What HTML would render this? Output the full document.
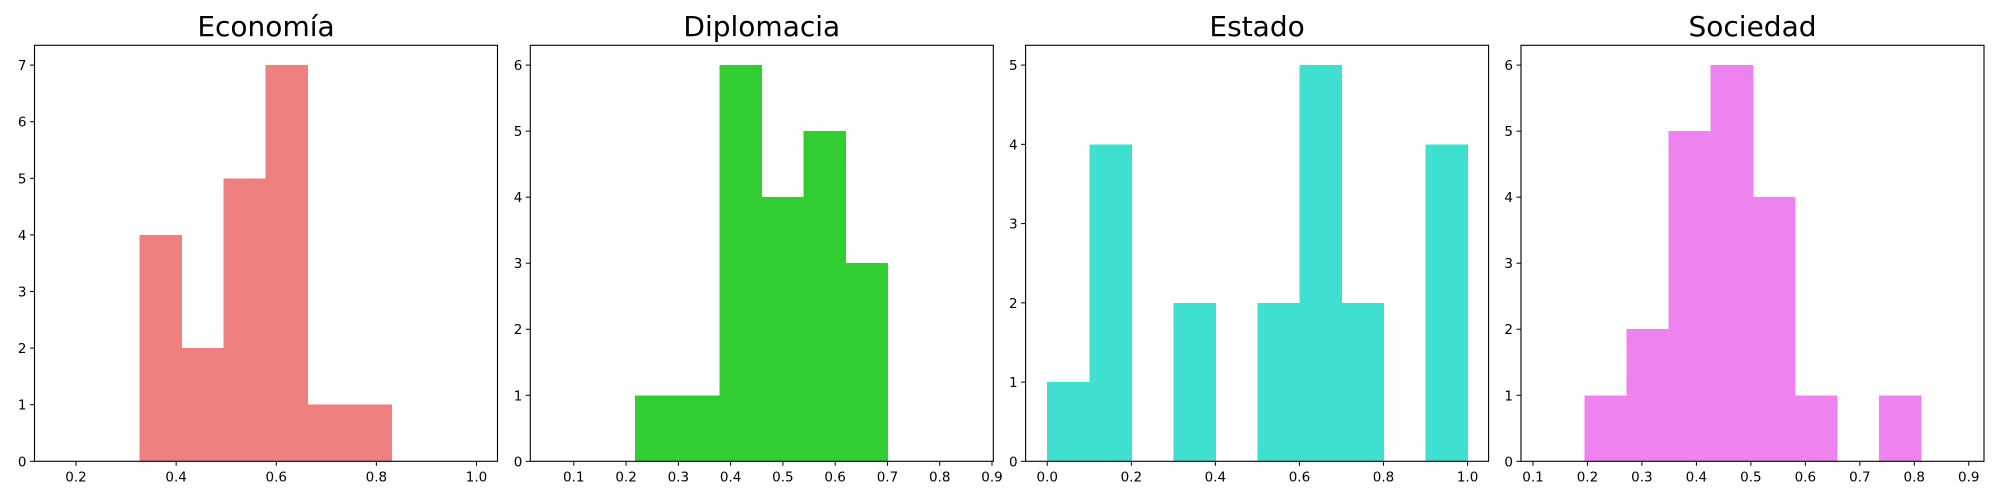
<!DOCTYPE html>
<html><head><meta charset="utf-8"><style>
html,body{margin:0;padding:0;background:#fff;}
svg{display:block;font-family:"DejaVu Sans","Liberation Sans",sans-serif;}
</style></head><body>
<svg id="chart" width="2000" height="500" viewBox="0 0 2000 500"></svg>
<script>
const titles = ["Economía","Diplomacia","Estado","Sociedad"];
const colors = ["#f08080","#32cd32","#40e0d0","#ee82ee"];
const binStarts = [0.3267, 0.2175, 0.0, 0.1947];
const binWidths = [0.084, 0.0805, 0.1, 0.0772];
const countsEconomia = [4,2,5,7,1,1];
const countsDiplomacia = [1,1,6,4,5,3];
const countsEstado = [1,4,0,2,0,2,5,2,0,4];
const countsSociedad = [1,2,5,6,4,1,0,1];
const xDomains = [[0.117,1.042],[0.0168,0.9025],[-0.0515,1.05],[0.078,0.928]];
const yMaxes = [7.35,6.3,5.25,6.3];
const xTicks0 = ["0.2","0.4","0.6","0.8","1.0"];
const xTicks1 = ["0.1","0.2","0.3","0.4","0.5","0.6","0.7","0.8","0.9"];
const xTicks2 = ["0.0","0.2","0.4","0.6","0.8","1.0"];
const xTicks3 = ["0.1","0.2","0.3","0.4","0.5","0.6","0.7","0.8","0.9"];
const yTicks0 = [0,1,2,3,4,5,6,7];
const yTicks1 = [0,1,2,3,4,5,6];
const yTicks2 = [0,1,2,3,4,5];
const yTicks3 = [0,1,2,3,4,5,6];

const allCounts=[countsEconomia,countsDiplomacia,countsEstado,countsSociedad];
const allX=[xTicks0,xTicks1,xTicks2,xTicks3];
const allY=[yTicks0,yTicks1,yTicks2,yTicks3];
const lefts=[34.5,530.3,1025.6,1521];
const W=463, TOP=45.3, BOT=461.3;
const NS="http://www.w3.org/2000/svg";
const svg=document.getElementById('chart');
function mk(tag,attrs,parent){const e=document.createElementNS(NS,tag);for(const k in attrs)e.setAttribute(k,attrs[k]);(parent||svg).appendChild(e);return e;}
for(let p=0;p<4;p++){
  const g=mk('g',{});
  
  
  const L=lefts[p],[x0,x1]=xDomains[p],ym=yMaxes[p];
  const sx=v=>L+(v-x0)/(x1-x0)*W;
  const sy=v=>BOT-v/ym*(BOT-TOP);
  const counts=allCounts[p];
  counts.forEach((c,i)=>{
    if(c<=0)return;
    const a=sx(binStarts[p]+i*binWidths[p]),b=sx(binStarts[p]+(i+1)*binWidths[p]);
    const r=mk('rect',{x:a,y:sy(c),width:b-a+0.5,height:sy(0)-sy(c),fill:colors[p],'shape-rendering':'crispEdges'},g);
    
    
  });
  const fr=mk('rect',{x:L,y:TOP,width:W,height:BOT-TOP,fill:'none',stroke:'#000','stroke-width':1.1},g);
  
  
  allX[p].forEach(t=>{
    const x=sx(parseFloat(t));
    mk('line',{x1:x,x2:x,y1:BOT,y2:BOT+4.5,stroke:'#000','stroke-width':1},g);
    const tx=mk('text',{x:x,y:BOT+20,'font-size':13.5,'text-anchor':'middle',fill:'#000'},g);
    tx.textContent=t;
    
    
  });
  allY[p].forEach(t=>{
    const y=sy(t);
    mk('line',{x1:L-4.5,x2:L,y1:y,y2:y,stroke:'#000','stroke-width':1},g);
    const tx=mk('text',{x:L-8,y:y+5,'font-size':13.5,'text-anchor':'end',fill:'#000'},g);
    tx.textContent=t;
    
    
  });
  const tt=mk('text',{x:L+W/2,y:36,'font-size':28,'text-anchor':'middle',fill:'#000'},g);
  tt.textContent=titles[p];
  
  
}
</script>
</body></html>
